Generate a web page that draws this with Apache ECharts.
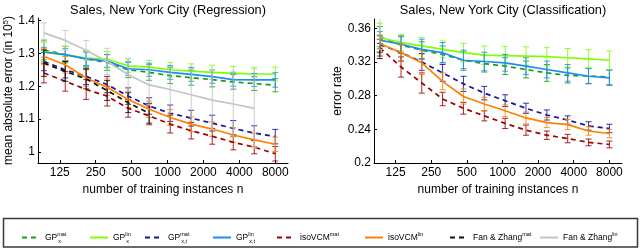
<!DOCTYPE html>
<html><head><meta charset="utf-8">
<script src="https://cdn.jsdelivr.net/npm/echarts@6/dist/echarts.min.js"></script>
<style>html,body{margin:0;padding:0;background:#fff}#c{width:640px;height:249px}</style>
</head><body><div id="c"></div>
<script>
// ---- data ----
const nValues = [92, 139, 208, 312, 468, 702, 1053, 1580, 2370, 3556, 5333, 8000];
const xTickValues = [125, 250, 500, 1000, 2000, 4000, 8000];
const regYTicks = [1, 1.1, 1.2, 1.3, 1.4];
const clsYTicks = [0.2, 0.24, 0.28, 0.32, 0.36];
const seriesNames = ['GPx mat', 'GPx lin', 'GPxt mat', 'GPxt lin', 'isoVCM mat', 'isoVCM lin', 'FZ mat', 'FZ lin'];

// Regression (mean absolute error, in 10^5)
const regGpxMat = [1.31, 1.296, 1.283, 1.272, 1.25, 1.242, 1.232, 1.226, 1.22, 1.213, 1.208, 1.203];
const regGpxMatErr = [0.03, 0.025, 0.024, 0.024, 0.024, 0.024, 0.024, 0.023, 0.022, 0.022, 0.021, 0.02];
const regGpxLin = [1.305, 1.295, 1.285, 1.282, 1.262, 1.258, 1.25, 1.246, 1.242, 1.239, 1.237, 1.237];
const regGpxLinErr = [0.03, 0.025, 0.023, 0.023, 0.02, 0.02, 0.022, 0.022, 0.022, 0.021, 0.021, 0.021];
const regGpxtMat = [1.275, 1.25, 1.23, 1.205, 1.17, 1.14, 1.118, 1.103, 1.088, 1.072, 1.058, 1.047];
const regGpxtMatErr = [0.028, 0.025, 0.025, 0.025, 0.025, 0.025, 0.025, 0.024, 0.024, 0.024, 0.022, 0.022];
const regGpxtLin = [1.303, 1.296, 1.283, 1.276, 1.253, 1.25, 1.242, 1.236, 1.229, 1.22, 1.219, 1.219];
const regGpxtLinErr = [0.015, 0.018, 0.02, 0.02, 0.02, 0.02, 0.021, 0.021, 0.02, 0.02, 0.02, 0.022];
const regIsoMat = [1.24, 1.215, 1.19, 1.17, 1.133, 1.11, 1.085, 1.065, 1.048, 1.03, 1.015, 0.995];
const regIsoMatErr = [0.03, 0.03, 0.03, 0.03, 0.027, 0.027, 0.027, 0.025, 0.024, 0.023, 0.02, 0.022];
const regIsoLin = [1.29, 1.265, 1.225, 1.197, 1.16, 1.13, 1.105, 1.085, 1.07, 1.052, 1.037, 1.024];
const regIsoLinErr = [0.025, 0.025, 0.025, 0.025, 0.025, 0.025, 0.024, 0.022, 0.022, 0.022, 0.02, 0.022];
const regFzMat = [1.27, 1.245, 1.222, 1.187, 1.15, 1.118];
const regFzMatErr = [0.04, 0.03, 0.03, 0.03, 0.03, 0.03];
const regFzLin = [1.362, 1.339, 1.309, 1.275, 1.235, 1.204, 1.19, 1.174, 1.158, 1.146, 1.133];
const regFzLinErr = [0.03, 0.03, 0.03, 0.04, 0.05, 0.06, 0.07, 0.08, 0.09, 0.1, 0.12];

// Classification (error rate)
const clsGpxMat = [0.35, 0.34, 0.334, 0.329, 0.322, 0.318, 0.315, 0.311, 0.307, 0.304, 0.3035, 0.302];
const clsGpxMatErr = [0.012, 0.01, 0.01, 0.01, 0.01, 0.01, 0.01, 0.01, 0.01, 0.009, 0.009, 0.009];
const clsGpxLin = [0.349, 0.343, 0.339, 0.335, 0.331, 0.328, 0.3275, 0.327, 0.3264, 0.325, 0.3236, 0.322];
const clsGpxLinErr = [0.017, 0.01, 0.01, 0.01, 0.011, 0.011, 0.011, 0.011, 0.011, 0.011, 0.011, 0.011];
const clsGpxtMat = [0.341, 0.331, 0.32, 0.307, 0.294, 0.283, 0.274, 0.265, 0.257, 0.251, 0.244, 0.241];
const clsGpxtMatErr = [0.01, 0.01, 0.01, 0.01, 0.009, 0.008, 0.007, 0.006, 0.006, 0.005, 0.005, 0.005];
const clsGpxtLin = [0.346, 0.341, 0.335, 0.331, 0.322, 0.3205, 0.319, 0.315, 0.311, 0.307, 0.303, 0.301];
const clsGpxtLinErr = [0.01, 0.01, 0.012, 0.012, 0.012, 0.011, 0.01, 0.01, 0.01, 0.01, 0.009, 0.009];
const clsIsoMat = [0.337, 0.314, 0.295, 0.276, 0.265, 0.256, 0.247, 0.239, 0.233, 0.229, 0.2245, 0.222];
const clsIsoMatErr = [0.01, 0.012, 0.012, 0.008, 0.007, 0.006, 0.006, 0.006, 0.005, 0.005, 0.004, 0.004];
const clsIsoLin = [0.342, 0.331, 0.319, 0.297, 0.279, 0.27, 0.262, 0.2535, 0.248, 0.2456, 0.238, 0.235];
const clsIsoLinErr = [0.01, 0.01, 0.014, 0.01, 0.009, 0.008, 0.007, 0.007, 0.006, 0.006, 0.005, 0.005];
const clsFzMat = [0.333];
const clsFzMatErr = [0.009];
const clsFzLin = [0.355];
const clsFzLinErr = [0.02];

// ---- styling ----
const FONT = '"Liberation Sans", Arial, Helvetica, sans-serif';
const colors = ['#1c9a1c', '#80ff00', '#12129c', '#1e8cf5', '#9e0000', '#ff8000', '#111111', '#c4c4c4'];
const dashed = [true, false, true, false, true, false, true, false];
const legendRich = [
  ['GP', 'mat', 'x'], ['GP', 'lin', 'x'], ['GP', 'mat', 'x,t'], ['GP', 'lin', 'x,t'],
  ['isoVCM', 'mat', ''], ['isoVCM', 'lin', ''], ['Fan & Zhang', 'mat', ''], ['Fan & Zhang', 'lin', '']
];
const legendLeft = [16, 84, 139, 207, 271, 359, 444, 534];

const regSets = [
  [regGpxMat, regGpxMatErr], [regGpxLin, regGpxLinErr], [regGpxtMat, regGpxtMatErr], [regGpxtLin, regGpxtLinErr],
  [regIsoMat, regIsoMatErr], [regIsoLin, regIsoLinErr], [regFzMat, regFzMatErr], [regFzLin, regFzLinErr]
];
const clsSets = [
  [clsGpxMat, clsGpxMatErr], [clsGpxLin, clsGpxLinErr], [clsGpxtMat, clsGpxtMatErr], [clsGpxtLin, clsGpxtLinErr],
  [clsIsoMat, clsIsoMatErr], [clsIsoLin, clsIsoLinErr], [clsFzMat, clsFzMatErr], [clsFzLin, clsFzLinErr]
];

function errRender(color) {
  return function (params, api) {
    const x = api.value(0), y = api.value(1), e = api.value(2);
    const t = api.coord([x, y + e]), b = api.coord([x, y - e]);
    const w = 3;
    const st = { stroke: color, lineWidth: 1, opacity: 0.85 };
    return { type: 'group', children: [
      { type: 'line', shape: { x1: t[0], y1: t[1], x2: b[0], y2: b[1] }, style: st },
      { type: 'line', shape: { x1: t[0] - w, y1: t[1], x2: t[0] + w, y2: t[1] }, style: st },
      { type: 'line', shape: { x1: b[0] - w, y1: b[1], x2: b[0] + w, y2: b[1] }, style: st }
    ] };
  };
}

const series = [];
[regSets, clsSets].forEach(function (sets, gi) {
  sets.forEach(function (s, i) {
    const means = s[0], errs = s[1];
    const lineData = means.map((v, k) => [Math.log2(nValues[k]), v]);
    const errData = means.map((v, k) => [Math.log2(nValues[k]), v, errs[k]]);
    series.push({
      name: seriesNames[i], type: 'line', xAxisIndex: gi, yAxisIndex: gi,
      data: lineData, symbol: 'none', silent: true, animation: false, clip: true, z: 3 + i,
      lineStyle: { color: colors[i], width: 1.7, type: dashed[i] ? [5, 4] : 'solid' },
      itemStyle: { color: colors[i] }
    });
    series.push({
      name: seriesNames[i] + ' err', type: 'custom', xAxisIndex: gi, yAxisIndex: gi,
      renderItem: errRender(colors[i]), data: errData, encode: { x: 0, y: 1 }, clip: true,
      silent: true, z: 2 + i
    });
  });
});

const xLog = xTickValues.map(v => Math.log2(v));
function xAxis(gi) {
  return {
    type: 'value', gridIndex: gi, min: 6.36, max: 13.32,
    axisLine: { show: true, lineStyle: { color: '#000', width: 1 } },
    axisTick: { show: true, inside: true, length: 3, customValues: xLog, lineStyle: { color: '#000' } },
    axisLabel: { customValues: xLog, formatter: v => String(Math.round(Math.pow(2, v))), color: '#000', fontSize: 12, fontFamily: FONT, margin: 4 },
    splitLine: { show: false },
    name: 'number of training instances n', nameLocation: 'middle', nameGap: 17,
    nameTextStyle: { color: '#000', fontSize: 12, fontFamily: FONT }
  };
}

const legends = legendRich.map(function (r, i) {
  let txt = '{m|' + r[0] + '}';
  if (r[2]) txt += '{sup|' + r[1] + '}{sub|' + r[2] + '}';
  else txt += '{supl|' + r[1] + '}';
  return {
    show: true, z: 20,
    data: [seriesNames[i]],
    left: legendLeft[i], top: 226, itemWidth: 18, itemHeight: 12, selectedMode: false,
    itemStyle: { color: 'rgba(0,0,0,0)', borderWidth: 0, opacity: 0 },
    lineStyle: { color: colors[i], width: 2, type: dashed[i] ? [5, 4] : 'solid', opacity: 1 },
    formatter: () => txt,
    textStyle: {
      fontFamily: FONT, color: '#000',
      rich: {
        m: { fontSize: 8.5, fontFamily: FONT, color: '#000', lineHeight: 13, verticalAlign: 'middle' },
        sup: { fontSize: 5.5, fontFamily: FONT, color: '#000', width: 1, verticalAlign: 'top', lineHeight: 6 },
        supl: { fontSize: 5.5, fontFamily: FONT, color: '#000', verticalAlign: 'top', lineHeight: 6 },
        sub: { fontSize: 5.5, fontFamily: FONT, color: '#000', verticalAlign: 'bottom', lineHeight: 6, width: 10 }
      }
    }
  };
});

const option = {
  animation: false,
  backgroundColor: '#fff',
  textStyle: { fontFamily: FONT },
  title: [
    { text: 'Sales, New York City (Regression)', left: 163, top: -1, textAlign: 'center',
      textStyle: { fontSize: 12.8, fontWeight: 'normal', color: '#000', fontFamily: FONT } },
    { text: 'Sales, New York City (Classification)', left: 498, top: -1, textAlign: 'center',
      textStyle: { fontSize: 12.8, fontWeight: 'normal', color: '#000', fontFamily: FONT } }
  ],
  grid: [
    { left: 38, top: 18, width: 250, height: 145 },
    { left: 374, top: 19, width: 248, height: 144 }
  ],
  xAxis: [xAxis(0), xAxis(1)],
  yAxis: [
    {
      type: 'value', gridIndex: 0, min: 0.967, max: 1.407,
      axisLine: { show: true, lineStyle: { color: '#000', width: 1 } },
      axisTick: { show: true, inside: true, length: 3, customValues: regYTicks, lineStyle: { color: '#000' } },
      axisLabel: { customValues: regYTicks, formatter: v => (Math.abs(v - 1) < 1e-9 ? '1' : v.toFixed(1)), color: '#000', fontSize: 12, fontFamily: FONT, margin: 3 },
      splitLine: { show: false },
      name: 'mean absolute error (in 10{s|5})', nameLocation: 'middle', nameGap: 23, nameRotate: 90,
      nameTextStyle: { color: '#000', fontSize: 12, fontFamily: FONT, rich: { s: { fontSize: 7.5, verticalAlign: 'top', color: '#000', fontFamily: FONT } } }
    },
    {
      type: 'value', gridIndex: 1, min: 0.2, max: 0.371,
      axisLine: { show: true, lineStyle: { color: '#000', width: 1 } },
      axisTick: { show: true, inside: true, length: 3, customValues: clsYTicks, lineStyle: { color: '#000' } },
      axisLabel: { customValues: clsYTicks, formatter: v => String(+v.toFixed(2)), color: '#000', fontSize: 12, fontFamily: FONT, margin: 3 },
      splitLine: { show: false },
      name: 'error rate', nameLocation: 'middle', nameGap: 29, nameRotate: 90,
      nameTextStyle: { color: '#000', fontSize: 12, fontFamily: FONT }
    }
  ],
  legend: legends,
  graphic: [
    { type: 'rect', shape: { x: 3.5, y: 218.5, width: 634, height: 28.5 }, style: { fill: 'none', stroke: '#3a3a3a', lineWidth: 1.5 }, z: -10, silent: true }
  ],
  series: series
};

const chart = echarts.init(document.getElementById('c'), null, { renderer: 'canvas' });
chart.setOption(option);
</script>
</body></html>
